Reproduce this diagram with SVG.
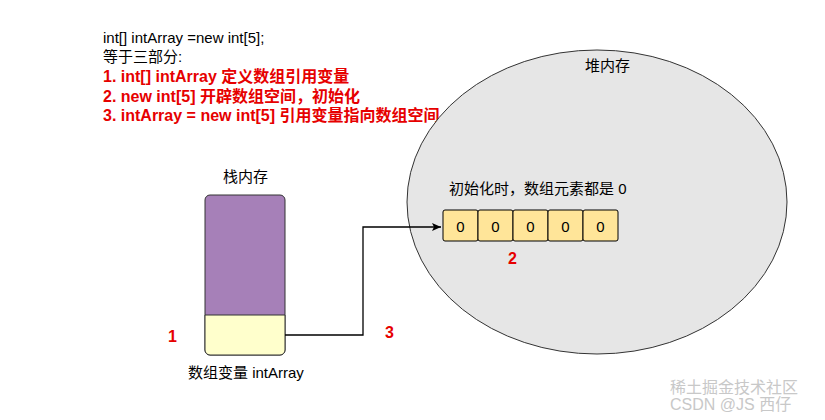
<svg xmlns="http://www.w3.org/2000/svg" width="825" height="420" viewBox="0 0 825 420">
<style>
text{font-family:"Liberation Sans","Noto Sans CJK SC",sans-serif;font-size:15px;fill:#000}
.r{fill:#e60000;font-weight:bold;font-size:16px}
.cell{fill:#ffe599;stroke:#000;stroke-width:1}
</style>
<defs><marker id="a" markerWidth="10" markerHeight="10" refX="9" refY="5" orient="auto" markerUnits="userSpaceOnUse"><path d="M0,1 L9,5 L0,9 L2,5 Z" fill="#000"/></marker></defs>
<rect width="825" height="420" fill="#fff"/>
<g id="notes">
<text x="103" y="43">int[] intArray =new int[5];</text>
<text x="103" y="62">等于三部分:</text>
<text class="r" x="103" y="82">1. int[] intArray 定义数组引用变量</text>
<text class="r" x="103" y="102">2. new int[5] 开辟数组空间，初始化</text>
<text class="r" x="103" y="121">3. intArray = new int[5] 引用变量指向数组空间</text>
</g>
<g id="heap">
<ellipse cx="597" cy="202" rx="190" ry="152" fill="#e6e6e6" stroke="#333"/>
<text x="585" y="71">堆内存</text>
<text x="449" y="194">初始化时，数组元素都是 0</text>
</g>
<g id="array">
<rect class="cell" x="443" y="210" width="35" height="31" rx="2"/>
<rect class="cell" x="478" y="210" width="35" height="31" rx="2"/>
<rect class="cell" x="513" y="210" width="35" height="31" rx="2"/>
<rect class="cell" x="548" y="210" width="35" height="31" rx="2"/>
<rect class="cell" x="583" y="210" width="35" height="31" rx="2"/>
<g text-anchor="middle"><text x="460.5" y="232">0</text><text x="495.5" y="232">0</text><text x="530.5" y="232">0</text><text x="565.5" y="232">0</text><text x="600.5" y="232">0</text></g>
<text class="r" x="508" y="264">2</text>
</g>
<g id="stack">
<text x="223" y="182">栈内存</text>
<rect x="205" y="195" width="80" height="160" rx="5" fill="#a680b8" stroke="#333"/>
<path d="M205,315 H285 V350 a5,5 0 0 1 -5,5 H210 a5,5 0 0 1 -5,-5 Z" fill="#ffffcc" stroke="#333"/>
<text x="188" y="378">数组变量 intArray</text>
<text class="r" x="168" y="342">1</text>
</g>
<g id="connectors">
<path d="M285,335 H363 V227 H441" fill="none" stroke="#000" stroke-width="1.3" marker-end="url(#a)"/>
<text class="r" x="385" y="338">3</text>
</g>
<g id="watermark">
<text x="670" y="393" style="fill:#c8c8c8;font-size:16px">稀土掘金技术社区</text>
<text x="670" y="410" style="fill:#c8c8c8;font-size:16px">CSDN @JS 西仔</text>
</g>
</svg>
